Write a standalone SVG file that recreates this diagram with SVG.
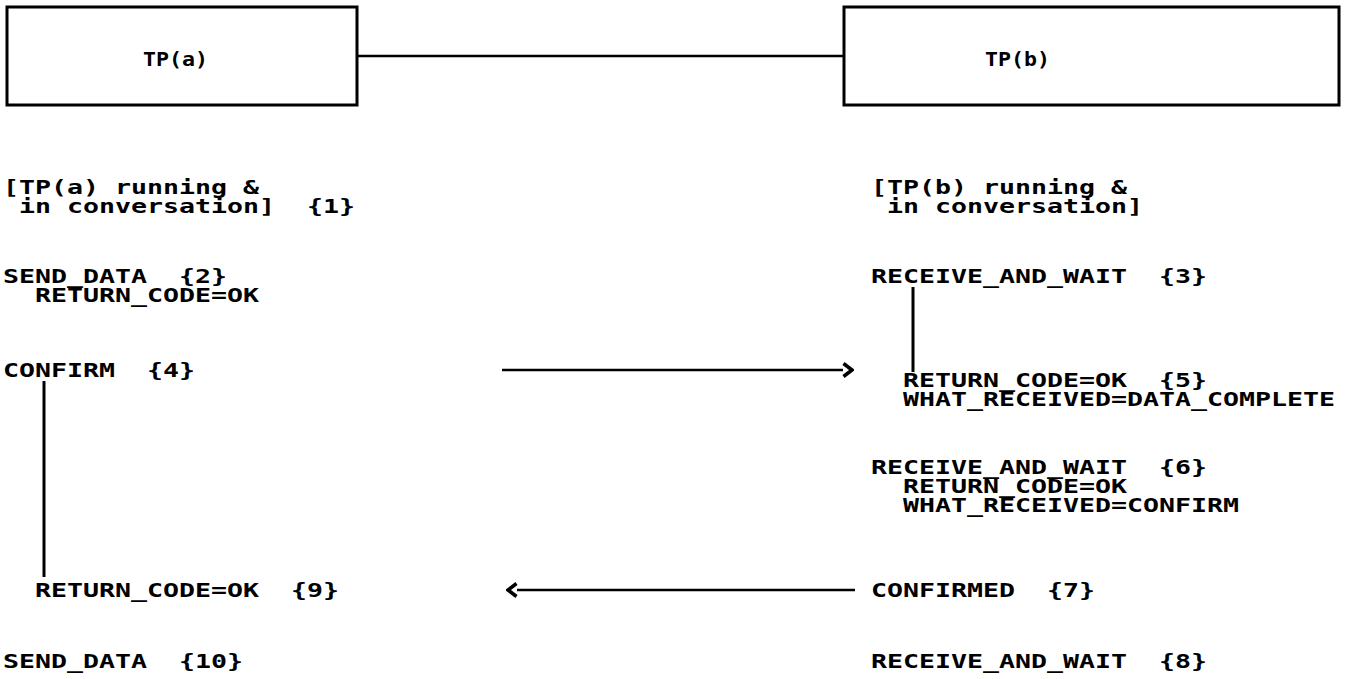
<svg xmlns="http://www.w3.org/2000/svg" width="1346" height="679" viewBox="0 0 1346 679" xml:space="preserve">
<style>
text { font-family: "DejaVu Sans Mono", "Liberation Mono", monospace; font-weight: bold; font-size: 20px; fill: #000; white-space: pre; }
.box { fill: #fff; stroke: #000; stroke-width: 3; }
.ln { stroke: #000; stroke-width: 2.5; fill: none; }
.vl { stroke: #000; stroke-width: 3; fill: none; }
</style>
<defs>
<marker id="head" viewBox="0 0 12 16" refX="1" refY="8" markerWidth="12" markerHeight="16" markerUnits="userSpaceOnUse" orient="auto">
<polyline points="1.5,1.5 10,8 1.5,14.5" fill="none" stroke="#000" stroke-width="3.5"/>
</marker>
</defs>
<rect width="1346" height="679" fill="#fff"/>
<g id="connectors">
<line class="ln" x1="357" y1="56" x2="844" y2="56"/>
<line class="ln" x1="502" y1="370" x2="843" y2="370" marker-end="url(#head)"/>
<line class="ln" x1="855" y1="590" x2="517" y2="590" marker-end="url(#head)"/>
<line class="vl" x1="44" y1="381" x2="44" y2="577"/>
<line class="vl" x1="913" y1="287" x2="913" y2="372"/>
</g>
<g id="tpa">
<rect class="box" x="7" y="7" width="350" height="98"/>
<text x="143" y="66" textLength="65" lengthAdjust="spacingAndGlyphs">TP(a)</text>
</g>
<g id="tpb">
<rect class="box" x="844" y="7" width="495" height="98"/>
<text x="985" y="66" textLength="65" lengthAdjust="spacingAndGlyphs">TP(b)</text>
</g>
<g id="left-column">
<text x="3" y="194" textLength="256" lengthAdjust="spacingAndGlyphs">[TP(a) running &amp;</text>
<text x="19" y="213" textLength="336" lengthAdjust="spacingAndGlyphs">in conversation]  {1}</text>
<text x="3" y="283" textLength="224" lengthAdjust="spacingAndGlyphs">SEND_DATA  {2}</text>
<text x="35" y="302" textLength="224" lengthAdjust="spacingAndGlyphs">RETURN_CODE=OK</text>
<text x="3" y="377" textLength="192" lengthAdjust="spacingAndGlyphs">CONFIRM  {4}</text>
<text x="35" y="597" textLength="304" lengthAdjust="spacingAndGlyphs">RETURN_CODE=OK  {9}</text>
<text x="3" y="668" textLength="240" lengthAdjust="spacingAndGlyphs">SEND_DATA  {10}</text>
</g>
<g id="right-column">
<text x="871" y="194" textLength="256" lengthAdjust="spacingAndGlyphs">[TP(b) running &amp;</text>
<text x="887" y="213" textLength="256" lengthAdjust="spacingAndGlyphs">in conversation]</text>
<text x="871" y="283" textLength="336" lengthAdjust="spacingAndGlyphs">RECEIVE_AND_WAIT  {3}</text>
<text x="903" y="387" textLength="304" lengthAdjust="spacingAndGlyphs">RETURN_CODE=OK  {5}</text>
<text x="903" y="406" textLength="432" lengthAdjust="spacingAndGlyphs">WHAT_RECEIVED=DATA_COMPLETE</text>
<text x="871" y="474" textLength="336" lengthAdjust="spacingAndGlyphs">RECEIVE_AND_WAIT  {6}</text>
<text x="903" y="493" textLength="224" lengthAdjust="spacingAndGlyphs">RETURN_CODE=OK</text>
<text x="903" y="512" textLength="336" lengthAdjust="spacingAndGlyphs">WHAT_RECEIVED=CONFIRM</text>
<text x="871" y="597" textLength="224" lengthAdjust="spacingAndGlyphs">CONFIRMED  {7}</text>
<text x="871" y="668" textLength="336" lengthAdjust="spacingAndGlyphs">RECEIVE_AND_WAIT  {8}</text>
</g>
</svg>
